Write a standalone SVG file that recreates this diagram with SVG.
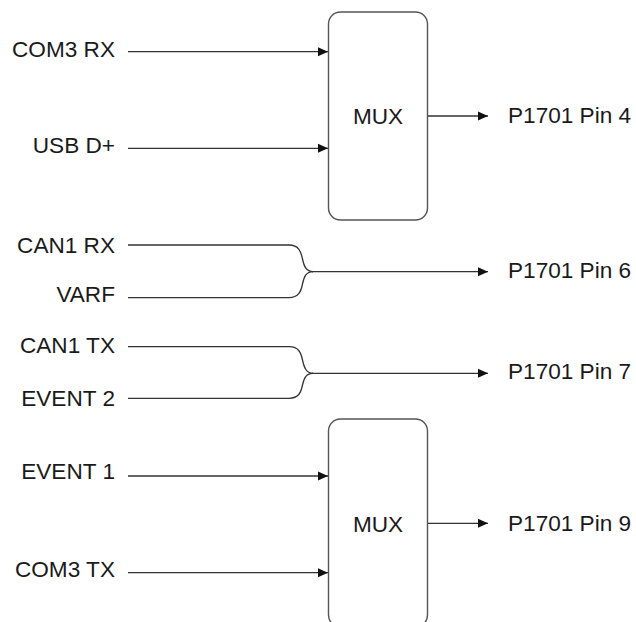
<svg xmlns="http://www.w3.org/2000/svg" width="636" height="622" viewBox="0 0 636 622">
<defs>
<marker id="arr" viewBox="0 0 10 10" refX="10" refY="5" markerWidth="10" markerHeight="10" markerUnits="userSpaceOnUse" orient="auto">
<path d="M0,0.5 L10,5 L0,9.5 Z" fill="#111"/>
</marker>
<style>
.t{font-family:"Liberation Sans",Arial,sans-serif;font-size:22.6px;fill:#1a1a1a}
.l{text-anchor:end}
.c{text-anchor:middle}
.box{fill:#fff;stroke:#555;stroke-width:1.4}
.w{fill:none;stroke:#333;stroke-width:1.3}
</style>
</defs>
<rect width="636" height="622" fill="#fff"/>
<g id="connectors">
<path class="w" d="M128,51.7 H328" marker-end="url(#arr)"/>
<path class="w" d="M128,148.3 H328" marker-end="url(#arr)"/>
<path class="w" d="M428,116 H488" marker-end="url(#arr)"/>
<path class="w" d="M128,245 H289 C299,245 301,252 302.5,259 C304,266 306,271.7 313,271.7"/>
<path class="w" d="M128,297.7 H289 C299,297.7 301,291 302.5,284 C304,277 306,271.7 313,271.7"/>
<path class="w" d="M312,271.7 H488" marker-end="url(#arr)"/>
<path class="w" d="M128,346.7 H289 C299,346.7 301,353 302.5,360 C304,367 306,373.3 313,373.3"/>
<path class="w" d="M128,398.3 H289 C299,398.3 301,392 302.5,385 C304,378 306,373.3 313,373.3"/>
<path class="w" d="M312,373.3 H488" marker-end="url(#arr)"/>
<path class="w" d="M128,476 H328" marker-end="url(#arr)"/>
<path class="w" d="M128,572.7 H328" marker-end="url(#arr)"/>
<path class="w" d="M428,523.3 H488" marker-end="url(#arr)"/>
</g>
<g id="mux1">
<rect class="box" x="328.5" y="12" width="99" height="208" rx="12"/>
<text class="t c" x="378" y="124">MUX</text>
</g>
<g id="mux2">
<rect class="box" x="328.5" y="419" width="99" height="208" rx="12"/>
<text class="t c" x="378" y="531.5">MUX</text>
</g>
<g id="inputs">
<text class="t l" x="115" y="57">COM3 RX</text>
<text class="t l" x="115" y="153">USB D+</text>
<text class="t l" x="115" y="252.7">CAN1 RX</text>
<text class="t l" x="115" y="301.7">VARF</text>
<text class="t l" x="115" y="353.3">CAN1 TX</text>
<text class="t l" x="115" y="405.7">EVENT 2</text>
<text class="t l" x="115" y="479.3">EVENT 1</text>
<text class="t l" x="115" y="576.7">COM3 TX</text>
</g>
<g id="outputs">
<text class="t" x="508" y="123.3">P1701 Pin 4</text>
<text class="t" x="508" y="278.3">P1701 Pin 6</text>
<text class="t" x="508" y="379.3">P1701 Pin 7</text>
<text class="t" x="508" y="531">P1701 Pin 9</text>
</g>
</svg>
